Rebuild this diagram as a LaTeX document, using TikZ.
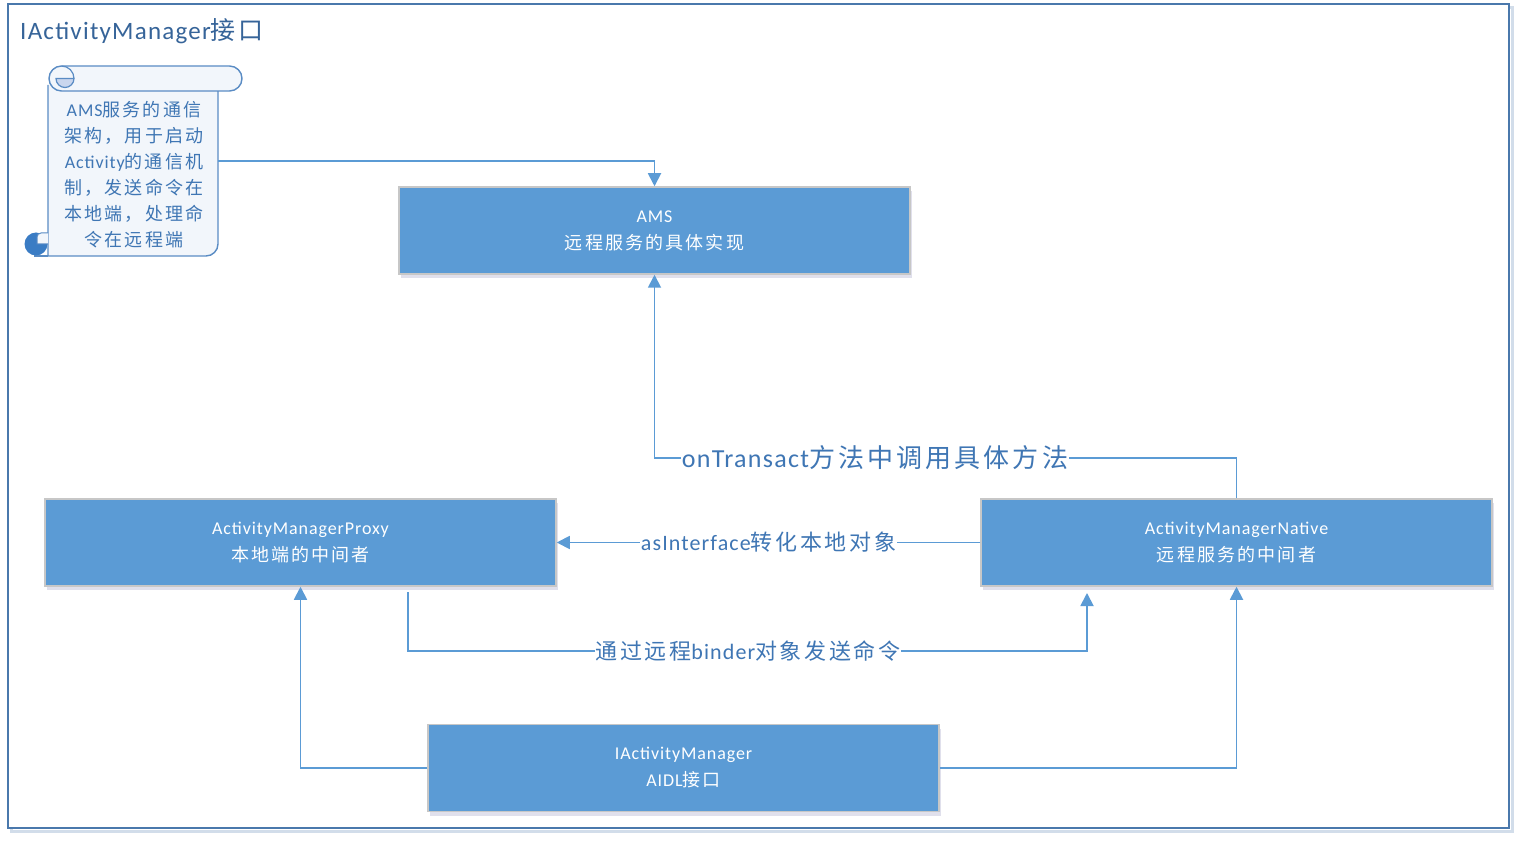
\documentclass[tikz,border=0pt]{standalone}
\usepackage{fontspec}
\setmainfont{Carlito}[LetterSpace=5]
\newfontfamily\cjk{Noto Sans CJK SC}[LetterSpace=12]
\usetikzlibrary{arrows.meta,shadows}
\definecolor{boxblue}{HTML}{5B9BD5}
\definecolor{linkblue}{HTML}{5B9BD5}
\definecolor{txtblue}{HTML}{3F76B4}
\definecolor{framec}{HTML}{4A78AC}
\definecolor{scrollc}{HTML}{5A8CC4}
\definecolor{scrollfill}{HTML}{F2F6FB}
\definecolor{curlfill}{HTML}{C9D6EE}
\definecolor{curldark}{HTML}{3A7CC4}
\tikzset{
  box/.style={rectangle, fill=boxblue, draw=black!22, line width=1.5pt,
    minimum width=511pt, minimum height=87pt, inner sep=0pt, align=center,
    text=white, font=\fontsize{18}{27}\selectfont,
    drop shadow={shadow xshift=2pt, shadow yshift=-4pt, fill=black!60!blue, opacity=0.12}},
  conn/.style={draw=linkblue, line width=1.8pt},
  arr/.style={conn, -{Triangle[length=13pt,width=13pt]}},
  lbl/.style={fill=white, text=txtblue, inner sep=1pt},
}
\begin{document}
\begin{tikzpicture}[x=1pt,y=-1pt]
\useasboundingbox (0,0) rectangle (1520,842);
% frame
\draw[draw=framec!25, line width=3pt] (11,8) rectangle (1512,831);
\fill[white] (8,4) rectangle (1509,828);
\draw[draw=framec, line width=1.3pt] (8,4) rectangle (1509,828);
\node[anchor=west, text=txtblue!85!black, inner sep=0pt, font=\fontsize{25}{29}\selectfont] (title) at (20,31) {IActivityManager{\cjk 接口}};

% scroll
\filldraw[draw=scrollc, fill=scrollfill, line width=1.4pt]
  (48,85) -- (48,256) -- (206,256) arc[start angle=90, end angle=0, radius=12] -- (218,91);
\draw[draw=scrollc, line width=1.4pt] (34,256) -- (48,256);
\filldraw[draw=scrollc, fill=scrollfill, line width=1.4pt]
  (61.5,66) -- (229.5,66) arc[start angle=270, end angle=450, radius=12.5]
  -- (61.5,91) arc[start angle=90, end angle=270, radius=12.5] -- cycle;
\filldraw[draw=scrollc, fill=curlfill, line width=1.2pt]
  (74,78.5) arc[start angle=0, end angle=180, radius=9] -- cycle;
\draw[draw=scrollc, line width=1.2pt] (61.5,66) arc[start angle=270, end angle=360, radius=12.5];
\fill[curldark] (36,244) circle[radius=11.5];
\filldraw[draw=scrollc, fill=scrollfill, line width=1pt] (48,233) -- (41,233) arc[start angle=270, end angle=180, radius=4] -- (37,244) -- (48,244);
\node[text=txtblue, align=center, inner sep=0pt, font=\fontsize{18}{26}\selectfont] (note) at (134,175)
  {AMS{\cjk 服务的通信}\\{\cjk 架构，用于启动}\\Activity{\cjk 的通信机}\\{\cjk 制，发送命令在}\\{\cjk 本地端，处理命}\\{\cjk 令在远程端}};
\coordinate (noteout) at (218,161);

% boxes
\node[box] (ams) at (654.5,230.5) {AMS\\{\cjk 远程服务的具体实现}};
\node[box] (proxy) at (300.5,542.5) {ActivityManagerProxy\\{\cjk 本地端的中间者}};
\node[box] (native) at (1236.5,542.5) {ActivityManagerNative\\{\cjk 远程服务的中间者}};
\node[box] (iam) at (683.5,768) {IActivityManager\\AIDL{\cjk 接口}};

% connectors
\draw[arr] (noteout) -| (ams.north);

\node[lbl, font=\fontsize{26}{31}\selectfont] (l1) at (875,458) {onTransact{\cjk 方法中调用具体方法}};
\draw[conn] (native.north) |- (l1.east);
\draw[arr] (l1.west) -| (ams.south);

\draw[arr] (native.west) -- node[lbl, font=\fontsize{22}{26}\selectfont] (l2) {asInterface{\cjk 转化本地对象}} (proxy.east);

\coordinate (bs) at (408,592);
\coordinate (bt) at (1087,593);
\coordinate (bm) at (748,651);
\draw[conn] (bs) |- (bm);
\draw[arr] (bm) -| (bt);
\node[lbl, font=\fontsize{22}{26}\selectfont] (l3) at (bm) {{\cjk 通过远程}binder{\cjk 对象发送命令}};

\draw[arr] (iam.west) -| (proxy.south);
\draw[arr] (iam.east) -| (native.south);
\end{tikzpicture}
\end{document}
